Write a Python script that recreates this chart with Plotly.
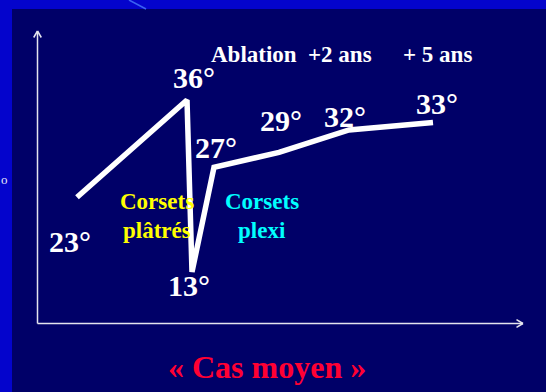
import plotly.graph_objects as go

W, H = 546, 392

# Evolution of the curve angle over time (horizontal axis in arbitrary time units)
temps = [0.77, 1.87, 1.92, 2.14, 2.79, 3.49, 4.33]
angles = [23, 36, 13, 27, 29, 32, 33]
angle_labels = ["23°", "36°", "13°", "27°", "29°", "32°", "33°"]

# Milestones written above the curve
etapes = ["Ablation", "+2 ans", "+ 5 ans"]
corsets_platres = ["Corsets", "plâtrés"]
corsets_plexi = ["Corsets", "plexi"]
titre = "« Cas moyen »"

BG = "#000068"
FRAME = "#0404CC"
SERIF = "'Liberation Serif', 'Times New Roman', serif"


def px(x):
    return x / W


def py(y):
    return 1 - y / H


fig = go.Figure()

fig.add_trace(go.Scatter(
    x=temps, y=angles, mode="lines",
    line=dict(color="white", width=5.5),
    hoverinfo="skip", showlegend=False,
))

annotations = []


def label(text, x, y, size, color="white"):
    annotations.append(dict(
        text=f"<b>{text}</b>", x=px(x), y=py(y), xref="paper", yref="paper",
        xanchor="center", yanchor="middle", showarrow=False,
        font=dict(family=SERIF, size=size, color=color),
    ))


# angle values beside each point of the curve
angle_pos = [(69.5, 241), (193.5, 77.5), (188.5, 285), (216, 147.5),
             (280.5, 120.5), (344.5, 116), (436.5, 103)]
for t, (x, y) in zip(angle_labels, angle_pos):
    label(t, x, y, 30)

for t, x in zip(etapes, [253.5, 340, 437]):
    label(t, x, 54.5, 23)

for t, y in zip(corsets_platres, [202, 230]):
    label(t, 156.5, y, 23, "#FFFF00")
for t, y in zip(corsets_plexi, [202, 230]):
    label(t, 262, y, 23, "#00FFFF")

label(titre, 267, 367, 32, "#FF0033")

# small bullet on the left frame
annotations.append(dict(
    text="o", x=px(4), y=py(180), xref="paper", yref="paper",
    xanchor="center", yanchor="middle", showarrow=False,
    font=dict(family=SERIF, size=13, color="#E8E8F8"),
))

shapes = []
# slide frame
shapes.append(dict(type="rect", xref="paper", yref="paper", x0=0, x1=px(12), y0=0, y1=1,
                   fillcolor=FRAME, line=dict(width=0), layer="below"))
shapes.append(dict(type="rect", xref="paper", yref="paper", x0=0, x1=1, y0=py(9), y1=1,
                   fillcolor=FRAME, line=dict(width=0), layer="below"))
shapes.append(dict(type="line", xref="paper", yref="paper", x0=px(129), y0=py(0),
                   x1=px(146), y1=py(9), line=dict(color="#3A62F2", width=1.5)))

# hand-drawn axes with open arrowheads
AX = dict(color="#E4E4EE", width=1.5)
ox, oy = 37.5, 323.5
for (x0, y0, x1, y1) in [
    (ox, oy, ox, 31), (ox, 31, ox - 3.8, 37.5), (ox, 31, ox + 3.8, 37.5),
    (ox, oy, 523, oy), (523, oy, 516.5, oy - 3.8), (523, oy, 516.5, oy + 3.8),
]:
    shapes.append(dict(type="line", xref="paper", yref="paper",
                       x0=px(x0), y0=py(y0), x1=px(x1), y1=py(y1), line=AX))

fig.update_layout(
    width=W, height=H,
    margin=dict(l=0, r=0, t=0, b=0),
    paper_bgcolor=BG, plot_bgcolor=BG,
    xaxis=dict(range=[0, 5.46], visible=False, fixedrange=True),
    yaxis=dict(range=[-3.05, 49.37], visible=False, fixedrange=True),
    annotations=annotations, shapes=shapes,
    showlegend=False,
)

fig.write_html("out.html", config=dict(displayModeBar=False))
